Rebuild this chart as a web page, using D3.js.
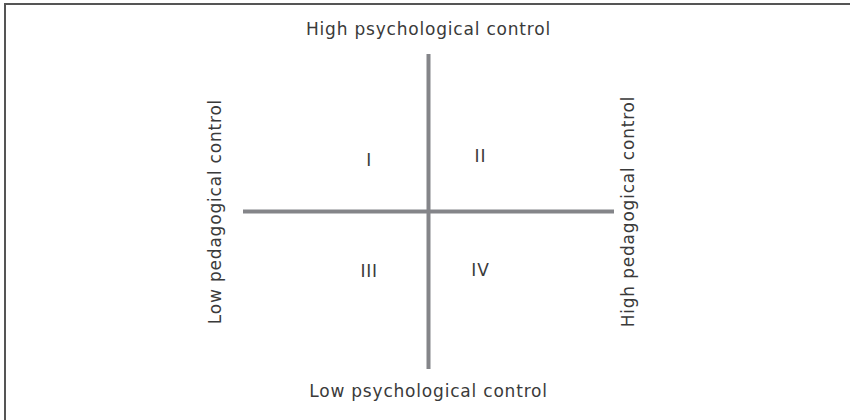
<!DOCTYPE html>
<html><head><meta charset="utf-8">
<script src="https://cdn.jsdelivr.net/npm/d3@7"></script>
<style>
html,body{margin:0;padding:0;background:#fff;}
svg text{font-family:"DejaVu Sans",sans-serif;fill:#3a3a3a;}
</style></head>
<body><svg id="chart" width="850" height="420"></svg>
<script>
const axisLabels = ["High psychological control","Low psychological control","Low pedagogical control","High pedagogical control"];
const quadrantNames = ["I","II","III","IV"];
const quadrantX = [-0.32, 0.28, -0.32, 0.28];
const quadrantY = [0.33, 0.35, -0.38, -0.37];
const axisDomain = [-1, 1];

const svg = d3.select("#chart");
const x = d3.scaleLinear().domain(axisDomain).range([243, 614]);
const y = d3.scaleLinear().domain(axisDomain).range([369, 54]);

// frame
svg.append("path").attr("d","M5,420 V4 H850").attr("fill","none").attr("stroke","#555").attr("stroke-width",2);

// cross
svg.append("line").attr("x1",x(-1)).attr("x2",x(1)).attr("y1",y(0)).attr("y2",y(0))
  .attr("stroke","#848589").attr("stroke-width",4);
svg.append("line").attr("x1",x(0)).attr("x2",x(0)).attr("y1",y(-1)).attr("y2",y(1))
  .attr("stroke","#848589").attr("stroke-width",4);

const fs = 17, ls = 0.8;
svg.append("text").attr("x",x(0)).attr("y",35).attr("text-anchor","middle")
  .attr("font-size",fs).attr("letter-spacing",ls).text(axisLabels[0]);
svg.append("text").attr("x",x(0)).attr("y",397).attr("text-anchor","middle")
  .attr("font-size",fs).attr("letter-spacing",ls).text(axisLabels[1]);
svg.append("text").attr("transform",`translate(221,${y(0)}) rotate(-90)`).attr("text-anchor","middle")
  .attr("font-size",fs).attr("letter-spacing",ls).text(axisLabels[2]);
svg.append("text").attr("transform",`translate(634,${y(0)}) rotate(-90)`).attr("text-anchor","middle")
  .attr("font-size",fs).attr("letter-spacing",ls).text(axisLabels[3]);

svg.selectAll("text.q").data(quadrantNames).join("text").attr("class","q")
  .attr("x",(d,i)=>x(quadrantX[i])).attr("y",(d,i)=>y(quadrantY[i])+6)
  .attr("text-anchor","middle").attr("font-size",fs).attr("letter-spacing",ls).text(d=>d);
</script></body></html>
